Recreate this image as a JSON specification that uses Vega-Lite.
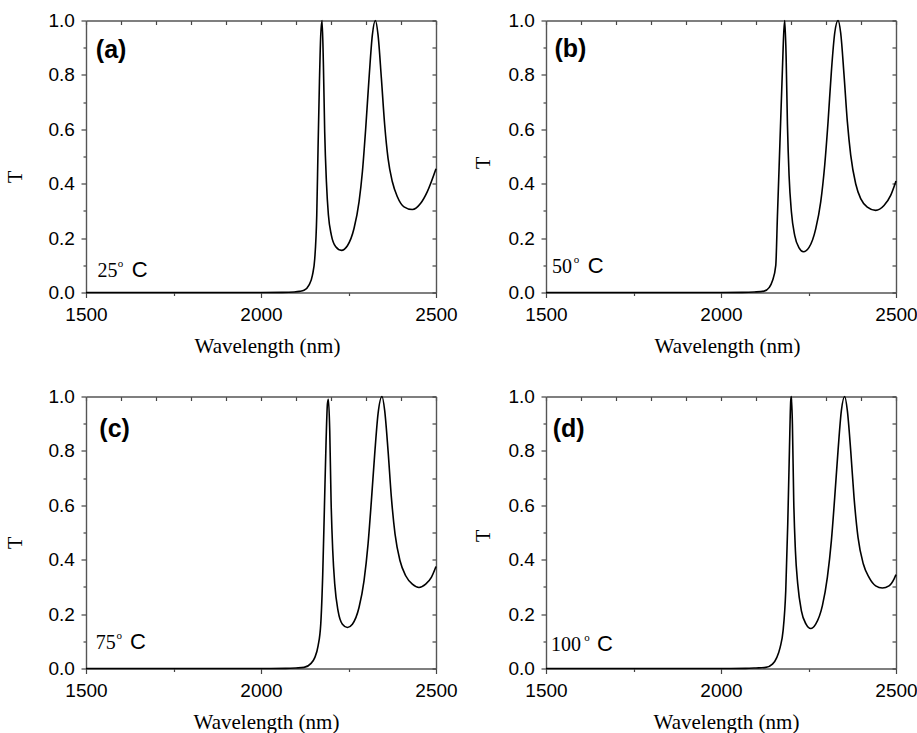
{
  "$schema": "https://vega.github.io/schema/vega-lite/v6.json",
  "background": "white",
  "padding": {"left": 5, "top": 11.5, "right": 0, "bottom": 0},
  "columns": 2,
  "bounds": "flush",
  "spacing": {"row": 104, "column": 110},
  "datasets": {
    "a": [
      {"wl": 1500, "T": 0}, {"wl": 1800, "T": 0}, {"wl": 2000, "T": 0}, {"wl": 2060, "T": 0.0005}, {"wl": 2095, "T": 0.002},
      {"wl": 2110, "T": 0.004}, {"wl": 2123, "T": 0.008}, {"wl": 2137, "T": 0.027}, {"wl": 2147, "T": 0.064}, {"wl": 2153.6, "T": 0.125},
      {"wl": 2159.3, "T": 0.285}, {"wl": 2163, "T": 0.53}, {"wl": 2167, "T": 0.776}, {"wl": 2170.7, "T": 0.947}, {"wl": 2174.5, "T": 1.0},
      {"wl": 2178.3, "T": 0.837}, {"wl": 2182, "T": 0.59}, {"wl": 2186.9, "T": 0.407}, {"wl": 2192.6, "T": 0.285}, {"wl": 2201, "T": 0.211},
      {"wl": 2213.6, "T": 0.168}, {"wl": 2229.7, "T": 0.155}, {"wl": 2246.9, "T": 0.172}, {"wl": 2265.9, "T": 0.236}, {"wl": 2280.2, "T": 0.334},
      {"wl": 2289.7, "T": 0.444}, {"wl": 2299.2, "T": 0.604}, {"wl": 2308.7, "T": 0.788}, {"wl": 2318.2, "T": 0.947}, {"wl": 2326.8, "T": 1.0},
      {"wl": 2334.4, "T": 0.947}, {"wl": 2343.9, "T": 0.788}, {"wl": 2353.4, "T": 0.616}, {"wl": 2363, "T": 0.493}, {"wl": 2375.3, "T": 0.407},
      {"wl": 2389.6, "T": 0.352}, {"wl": 2408.6, "T": 0.315}, {"wl": 2432.4, "T": 0.305}, {"wl": 2456.2, "T": 0.328}, {"wl": 2475.2, "T": 0.371},
      {"wl": 2500, "T": 0.455}
    ],
    "b": [
      {"wl": 1500, "T": 0}, {"wl": 1800, "T": 0}, {"wl": 2000, "T": 0}, {"wl": 2060, "T": 0.0005}, {"wl": 2095, "T": 0.002},
      {"wl": 2123, "T": 0.005}, {"wl": 2137.4, "T": 0.018}, {"wl": 2147, "T": 0.043}, {"wl": 2156.5, "T": 0.1}, {"wl": 2161.2, "T": 0.28},
      {"wl": 2166, "T": 0.46}, {"wl": 2170.7, "T": 0.64}, {"wl": 2175.5, "T": 0.82}, {"wl": 2179.5, "T": 0.96}, {"wl": 2182.2, "T": 1.0},
      {"wl": 2186, "T": 0.87}, {"wl": 2189.8, "T": 0.62}, {"wl": 2194.5, "T": 0.43}, {"wl": 2201.2, "T": 0.296}, {"wl": 2210.7, "T": 0.209},
      {"wl": 2223, "T": 0.164}, {"wl": 2235.4, "T": 0.15}, {"wl": 2251.6, "T": 0.166}, {"wl": 2270.6, "T": 0.234}, {"wl": 2284.9, "T": 0.333},
      {"wl": 2296.3, "T": 0.468}, {"wl": 2305.9, "T": 0.628}, {"wl": 2315.4, "T": 0.813}, {"wl": 2324.9, "T": 0.954}, {"wl": 2334.4, "T": 1.0},
      {"wl": 2342, "T": 0.954}, {"wl": 2351.5, "T": 0.8}, {"wl": 2361, "T": 0.628}, {"wl": 2370.6, "T": 0.505}, {"wl": 2384.8, "T": 0.4},
      {"wl": 2399.1, "T": 0.345}, {"wl": 2418.1, "T": 0.314}, {"wl": 2441.9, "T": 0.302}, {"wl": 2465.7, "T": 0.32}, {"wl": 2484.8, "T": 0.357},
      {"wl": 2500, "T": 0.41}
    ],
    "c": [
      {"wl": 1500, "T": 0}, {"wl": 1800, "T": 0}, {"wl": 2000, "T": 0}, {"wl": 2070, "T": 0.0005}, {"wl": 2100, "T": 0.002},
      {"wl": 2123, "T": 0.004}, {"wl": 2142.2, "T": 0.018}, {"wl": 2153.6, "T": 0.04}, {"wl": 2163.1, "T": 0.083}, {"wl": 2170.7, "T": 0.163},
      {"wl": 2176.4, "T": 0.347}, {"wl": 2181.2, "T": 0.593}, {"wl": 2186, "T": 0.838}, {"wl": 2189.8, "T": 0.973}, {"wl": 2192.6, "T": 0.99},
      {"wl": 2196.4, "T": 0.875}, {"wl": 2200.2, "T": 0.617}, {"wl": 2205, "T": 0.433}, {"wl": 2210.7, "T": 0.31}, {"wl": 2220.2, "T": 0.212},
      {"wl": 2232.6, "T": 0.163}, {"wl": 2246.9, "T": 0.151}, {"wl": 2261.1, "T": 0.163}, {"wl": 2280.2, "T": 0.225}, {"wl": 2294.4, "T": 0.323},
      {"wl": 2305.9, "T": 0.458}, {"wl": 2315.4, "T": 0.617}, {"wl": 2324.9, "T": 0.789}, {"wl": 2334.4, "T": 0.936}, {"wl": 2345.8, "T": 1.0},
      {"wl": 2353.4, "T": 0.948}, {"wl": 2363, "T": 0.801}, {"wl": 2372.5, "T": 0.629}, {"wl": 2383, "T": 0.494}, {"wl": 2397.2, "T": 0.396},
      {"wl": 2413.4, "T": 0.341}, {"wl": 2432.4, "T": 0.31}, {"wl": 2451.4, "T": 0.298}, {"wl": 2470.5, "T": 0.31}, {"wl": 2486.7, "T": 0.335},
      {"wl": 2500, "T": 0.375}
    ],
    "d": [
      {"wl": 1500, "T": 0}, {"wl": 1800, "T": 0}, {"wl": 2000, "T": 0}, {"wl": 2070, "T": 0.0005}, {"wl": 2100, "T": 0.002},
      {"wl": 2127.9, "T": 0.004}, {"wl": 2147, "T": 0.016}, {"wl": 2159.3, "T": 0.04}, {"wl": 2168.8, "T": 0.077}, {"wl": 2177.4, "T": 0.139},
      {"wl": 2185, "T": 0.286}, {"wl": 2190.7, "T": 0.531}, {"wl": 2195.5, "T": 0.801}, {"wl": 2199.3, "T": 0.985}, {"wl": 2201.2, "T": 1.0},
      {"wl": 2204, "T": 0.9}, {"wl": 2207.8, "T": 0.617}, {"wl": 2212.6, "T": 0.433}, {"wl": 2219.3, "T": 0.31}, {"wl": 2229.7, "T": 0.212},
      {"wl": 2243, "T": 0.163}, {"wl": 2256.4, "T": 0.147}, {"wl": 2270.6, "T": 0.163}, {"wl": 2289.7, "T": 0.231}, {"wl": 2303.9, "T": 0.335},
      {"wl": 2315.4, "T": 0.47}, {"wl": 2324.9, "T": 0.629}, {"wl": 2334.4, "T": 0.801}, {"wl": 2343.9, "T": 0.948}, {"wl": 2353.4, "T": 1.0},
      {"wl": 2361, "T": 0.948}, {"wl": 2370.6, "T": 0.801}, {"wl": 2380.1, "T": 0.629}, {"wl": 2391.5, "T": 0.482}, {"wl": 2406.7, "T": 0.384},
      {"wl": 2422.9, "T": 0.335}, {"wl": 2441.9, "T": 0.304}, {"wl": 2461, "T": 0.296}, {"wl": 2480, "T": 0.304}, {"wl": 2494.3, "T": 0.329},
      {"wl": 2500, "T": 0.345}
    ]
  },
  "concat": [
    {
      "width": 350, "height": 272,
      "data": {"name": "a"},
      "layer": [
        {
          "mark": {"type": "line", "color": "#000", "strokeWidth": 1.6, "interpolate": "monotone"},
          "encoding": {
            "x": {"field": "wl", "type": "quantitative", "scale": {"domain": [1500, 2500], "nice": false, "zero": false},
              "axis": {"orient": "bottom", "values": [1500, 1750, 2000, 2250, 2500], "format": "d", "labelExpr": "datum.value % 500 === 0 ? datum.label : ''", "tickSize": {"condition": {"test": "datum.value % 500 === 0", "value": 5}, "value": 3}, "labelPadding": 7.5, "title": "Wavelength (nm)", "titleFontSize": 21, "titleX": 181, "titleY": 60, "titleBaseline": "alphabetic", "titleAlign": "center"}},
            "y": {"field": "T", "type": "quantitative", "scale": {"domain": [0, 1], "nice": false},
              "axis": {"orient": "left", "values": [0, 0.1, 0.2, 0.3, 0.4, 0.5, 0.6, 0.7, 0.8, 0.9, 1.0], "format": ".1f", "labelExpr": "round(datum.value*10) % 2 === 0 ? datum.label : ''", "tickSize": {"condition": {"test": "round(datum.value*10) % 2 === 0", "value": 5}, "value": 3}, "labelPadding": 6.7, "title": "T", "titleFontSize": 20, "titleX": -71, "titleY": 156, "titleBaseline": "middle", "titleAngle": -90, "titleAlign": "center"}}
          }
        },
        {
          "data": {"values": [{"x": 1528, "y": 0.89, "t": "(a)"}]},
          "mark": {"type": "text", "font": "Liberation Sans", "fontWeight": "bold", "fontSize": 25, "align": "left", "baseline": "middle", "color": "#000"},
          "encoding": {
            "x": {"field": "x", "type": "quantitative", "scale": {"domain": [1500, 2500], "nice": false, "zero": false},
              "axis": {"orient": "top", "values": [1500, 1600, 1700, 1800, 1900, 2000, 2100, 2200, 2300, 2400, 2500], "labels": false, "tickSize": -4, "title": null}},
            "y": {"field": "y", "type": "quantitative", "scale": {"domain": [0, 1], "nice": false},
              "axis": {"orient": "right", "values": [0, 0.1, 0.2, 0.3, 0.4, 0.5, 0.6, 0.7, 0.8, 0.9, 1.0], "labels": false, "tickSize": -4, "title": null}},
            "text": {"field": "t"}
          }
        },
        {
          "data": {"values": [{"x": 1533, "y": 0.057, "t": "25"}]},
          "mark": {"type": "text", "font": "Liberation Serif", "fontSize": 20, "align": "left", "baseline": "alphabetic", "color": "#000"},
          "encoding": {"x": {"field": "x", "type": "quantitative", "scale": {"domain": [1500, 2500], "nice": false, "zero": false}, "axis": null}, "y": {"field": "y", "type": "quantitative", "scale": {"domain": [0, 1], "nice": false}, "axis": null}, "text": {"field": "t"}}
        },
        {
          "data": {"values": [{"x": 1591, "y": 0.094, "t": "o"}]},
          "mark": {"type": "text", "font": "Liberation Serif", "fontSize": 11, "align": "left", "baseline": "alphabetic", "color": "#000"},
          "encoding": {"x": {"field": "x", "type": "quantitative", "scale": {"domain": [1500, 2500], "nice": false, "zero": false}, "axis": null}, "y": {"field": "y", "type": "quantitative", "scale": {"domain": [0, 1], "nice": false}, "axis": null}, "text": {"field": "t"}}
        },
        {
          "data": {"values": [{"x": 1631, "y": 0.057, "t": "C"}]},
          "mark": {"type": "text", "font": "Liberation Sans", "fontSize": 22, "align": "left", "baseline": "alphabetic", "color": "#000"},
          "encoding": {"x": {"field": "x", "type": "quantitative", "scale": {"domain": [1500, 2500], "nice": false, "zero": false}, "axis": null}, "y": {"field": "y", "type": "quantitative", "scale": {"domain": [0, 1], "nice": false}, "axis": null}, "text": {"field": "t"}}
        }
      ],
      "resolve": {"axis": {"x": "independent", "y": "independent"}}
    },
    {
      "width": 350, "height": 272,
      "data": {"name": "b"},
      "layer": [
        {
          "mark": {"type": "line", "color": "#000", "strokeWidth": 1.6, "interpolate": "monotone"},
          "encoding": {
            "x": {"field": "wl", "type": "quantitative", "scale": {"domain": [1500, 2500], "nice": false, "zero": false},
              "axis": {"orient": "bottom", "values": [1500, 1750, 2000, 2250, 2500], "format": "d", "labelExpr": "datum.value % 500 === 0 ? datum.label : ''", "tickSize": {"condition": {"test": "datum.value % 500 === 0", "value": 5}, "value": 3}, "labelPadding": 7.5, "title": "Wavelength (nm)", "titleFontSize": 21, "titleX": 181, "titleY": 60, "titleBaseline": "alphabetic", "titleAlign": "center"}},
            "y": {"field": "T", "type": "quantitative", "scale": {"domain": [0, 1], "nice": false},
              "axis": {"orient": "left", "values": [0, 0.1, 0.2, 0.3, 0.4, 0.5, 0.6, 0.7, 0.8, 0.9, 1.0], "format": ".1f", "labelExpr": "round(datum.value*10) % 2 === 0 ? datum.label : ''", "tickSize": {"condition": {"test": "round(datum.value*10) % 2 === 0", "value": 5}, "value": 3}, "labelPadding": 6.7, "title": "T", "titleFontSize": 20, "titleX": -63, "titleY": 142, "titleBaseline": "middle", "titleAngle": -90, "titleAlign": "center"}}
          }
        },
        {
          "data": {"values": [{"x": 1524, "y": 0.895, "t": "(b)"}]},
          "mark": {"type": "text", "font": "Liberation Sans", "fontWeight": "bold", "fontSize": 25, "align": "left", "baseline": "middle", "color": "#000"},
          "encoding": {
            "x": {"field": "x", "type": "quantitative", "scale": {"domain": [1500, 2500], "nice": false, "zero": false},
              "axis": {"orient": "top", "values": [1500, 1600, 1700, 1800, 1900, 2000, 2100, 2200, 2300, 2400, 2500], "labels": false, "tickSize": -4, "title": null}},
            "y": {"field": "y", "type": "quantitative", "scale": {"domain": [0, 1], "nice": false},
              "axis": {"orient": "right", "values": [0, 0.1, 0.2, 0.3, 0.4, 0.5, 0.6, 0.7, 0.8, 0.9, 1.0], "labels": false, "tickSize": -4, "title": null}},
            "text": {"field": "t"}
          }
        },
        {
          "data": {"values": [{"x": 1517, "y": 0.07, "t": "50"}]},
          "mark": {"type": "text", "font": "Liberation Serif", "fontSize": 20, "align": "left", "baseline": "alphabetic", "color": "#000"},
          "encoding": {"x": {"field": "x", "type": "quantitative", "scale": {"domain": [1500, 2500], "nice": false, "zero": false}, "axis": null}, "y": {"field": "y", "type": "quantitative", "scale": {"domain": [0, 1], "nice": false}, "axis": null}, "text": {"field": "t"}}
        },
        {
          "data": {"values": [{"x": 1579, "y": 0.107, "t": "o"}]},
          "mark": {"type": "text", "font": "Liberation Serif", "fontSize": 11, "align": "left", "baseline": "alphabetic", "color": "#000"},
          "encoding": {"x": {"field": "x", "type": "quantitative", "scale": {"domain": [1500, 2500], "nice": false, "zero": false}, "axis": null}, "y": {"field": "y", "type": "quantitative", "scale": {"domain": [0, 1], "nice": false}, "axis": null}, "text": {"field": "t"}}
        },
        {
          "data": {"values": [{"x": 1619, "y": 0.07, "t": "C"}]},
          "mark": {"type": "text", "font": "Liberation Sans", "fontSize": 22, "align": "left", "baseline": "alphabetic", "color": "#000"},
          "encoding": {"x": {"field": "x", "type": "quantitative", "scale": {"domain": [1500, 2500], "nice": false, "zero": false}, "axis": null}, "y": {"field": "y", "type": "quantitative", "scale": {"domain": [0, 1], "nice": false}, "axis": null}, "text": {"field": "t"}}
        }
      ],
      "resolve": {"axis": {"x": "independent", "y": "independent"}}
    },
    {
      "width": 350, "height": 272,
      "data": {"name": "c"},
      "layer": [
        {
          "mark": {"type": "line", "color": "#000", "strokeWidth": 1.6, "interpolate": "monotone"},
          "encoding": {
            "x": {"field": "wl", "type": "quantitative", "scale": {"domain": [1500, 2500], "nice": false, "zero": false},
              "axis": {"orient": "bottom", "values": [1500, 1750, 2000, 2250, 2500], "format": "d", "labelExpr": "datum.value % 500 === 0 ? datum.label : ''", "tickSize": {"condition": {"test": "datum.value % 500 === 0", "value": 5}, "value": 3}, "labelPadding": 7.5, "title": "Wavelength (nm)", "titleFontSize": 21, "titleX": 180, "titleY": 60, "titleBaseline": "alphabetic", "titleAlign": "center"}},
            "y": {"field": "T", "type": "quantitative", "scale": {"domain": [0, 1], "nice": false},
              "axis": {"orient": "left", "values": [0, 0.1, 0.2, 0.3, 0.4, 0.5, 0.6, 0.7, 0.8, 0.9, 1.0], "format": ".1f", "labelExpr": "round(datum.value*10) % 2 === 0 ? datum.label : ''", "tickSize": {"condition": {"test": "round(datum.value*10) % 2 === 0", "value": 5}, "value": 3}, "labelPadding": 6.7, "title": "T", "titleFontSize": 20, "titleX": -71, "titleY": 146, "titleBaseline": "middle", "titleAngle": -90, "titleAlign": "center"}}
          }
        },
        {
          "data": {"values": [{"x": 1538, "y": 0.881, "t": "(c)"}]},
          "mark": {"type": "text", "font": "Liberation Sans", "fontWeight": "bold", "fontSize": 25, "align": "left", "baseline": "middle", "color": "#000"},
          "encoding": {
            "x": {"field": "x", "type": "quantitative", "scale": {"domain": [1500, 2500], "nice": false, "zero": false},
              "axis": {"orient": "top", "values": [1500, 1600, 1700, 1800, 1900, 2000, 2100, 2200, 2300, 2400, 2500], "labels": false, "tickSize": -4, "title": null}},
            "y": {"field": "y", "type": "quantitative", "scale": {"domain": [0, 1], "nice": false},
              "axis": {"orient": "right", "values": [0, 0.1, 0.2, 0.3, 0.4, 0.5, 0.6, 0.7, 0.8, 0.9, 1.0], "labels": false, "tickSize": -4, "title": null}},
            "text": {"field": "t"}
          }
        },
        {
          "data": {"values": [{"x": 1528, "y": 0.071, "t": "75"}]},
          "mark": {"type": "text", "font": "Liberation Serif", "fontSize": 20, "align": "left", "baseline": "alphabetic", "color": "#000"},
          "encoding": {"x": {"field": "x", "type": "quantitative", "scale": {"domain": [1500, 2500], "nice": false, "zero": false}, "axis": null}, "y": {"field": "y", "type": "quantitative", "scale": {"domain": [0, 1], "nice": false}, "axis": null}, "text": {"field": "t"}}
        },
        {
          "data": {"values": [{"x": 1587, "y": 0.108, "t": "o"}]},
          "mark": {"type": "text", "font": "Liberation Serif", "fontSize": 11, "align": "left", "baseline": "alphabetic", "color": "#000"},
          "encoding": {"x": {"field": "x", "type": "quantitative", "scale": {"domain": [1500, 2500], "nice": false, "zero": false}, "axis": null}, "y": {"field": "y", "type": "quantitative", "scale": {"domain": [0, 1], "nice": false}, "axis": null}, "text": {"field": "t"}}
        },
        {
          "data": {"values": [{"x": 1626, "y": 0.071, "t": "C"}]},
          "mark": {"type": "text", "font": "Liberation Sans", "fontSize": 22, "align": "left", "baseline": "alphabetic", "color": "#000"},
          "encoding": {"x": {"field": "x", "type": "quantitative", "scale": {"domain": [1500, 2500], "nice": false, "zero": false}, "axis": null}, "y": {"field": "y", "type": "quantitative", "scale": {"domain": [0, 1], "nice": false}, "axis": null}, "text": {"field": "t"}}
        }
      ],
      "resolve": {"axis": {"x": "independent", "y": "independent"}}
    },
    {
      "width": 350, "height": 272,
      "data": {"name": "d"},
      "layer": [
        {
          "mark": {"type": "line", "color": "#000", "strokeWidth": 1.6, "interpolate": "monotone"},
          "encoding": {
            "x": {"field": "wl", "type": "quantitative", "scale": {"domain": [1500, 2500], "nice": false, "zero": false},
              "axis": {"orient": "bottom", "values": [1500, 1750, 2000, 2250, 2500], "format": "d", "labelExpr": "datum.value % 500 === 0 ? datum.label : ''", "tickSize": {"condition": {"test": "datum.value % 500 === 0", "value": 5}, "value": 3}, "labelPadding": 7.5, "title": "Wavelength (nm)", "titleFontSize": 21, "titleX": 180, "titleY": 60, "titleBaseline": "alphabetic", "titleAlign": "center"}},
            "y": {"field": "T", "type": "quantitative", "scale": {"domain": [0, 1], "nice": false},
              "axis": {"orient": "left", "values": [0, 0.1, 0.2, 0.3, 0.4, 0.5, 0.6, 0.7, 0.8, 0.9, 1.0], "format": ".1f", "labelExpr": "round(datum.value*10) % 2 === 0 ? datum.label : ''", "tickSize": {"condition": {"test": "round(datum.value*10) % 2 === 0", "value": 5}, "value": 3}, "labelPadding": 6.7, "title": "T", "titleFontSize": 20, "titleX": -63, "titleY": 139, "titleBaseline": "middle", "titleAngle": -90, "titleAlign": "center"}}
          }
        },
        {
          "data": {"values": [{"x": 1519, "y": 0.881, "t": "(d)"}]},
          "mark": {"type": "text", "font": "Liberation Sans", "fontWeight": "bold", "fontSize": 25, "align": "left", "baseline": "middle", "color": "#000"},
          "encoding": {
            "x": {"field": "x", "type": "quantitative", "scale": {"domain": [1500, 2500], "nice": false, "zero": false},
              "axis": {"orient": "top", "values": [1500, 1600, 1700, 1800, 1900, 2000, 2100, 2200, 2300, 2400, 2500], "labels": false, "tickSize": -4, "title": null}},
            "y": {"field": "y", "type": "quantitative", "scale": {"domain": [0, 1], "nice": false},
              "axis": {"orient": "right", "values": [0, 0.1, 0.2, 0.3, 0.4, 0.5, 0.6, 0.7, 0.8, 0.9, 1.0], "labels": false, "tickSize": -4, "title": null}},
            "text": {"field": "t"}
          }
        },
        {
          "data": {"values": [{"x": 1514, "y": 0.065, "t": "100"}]},
          "mark": {"type": "text", "font": "Liberation Serif", "fontSize": 20, "align": "left", "baseline": "alphabetic", "color": "#000"},
          "encoding": {"x": {"field": "x", "type": "quantitative", "scale": {"domain": [1500, 2500], "nice": false, "zero": false}, "axis": null}, "y": {"field": "y", "type": "quantitative", "scale": {"domain": [0, 1], "nice": false}, "axis": null}, "text": {"field": "t"}}
        },
        {
          "data": {"values": [{"x": 1609, "y": 0.102, "t": "o"}]},
          "mark": {"type": "text", "font": "Liberation Serif", "fontSize": 11, "align": "left", "baseline": "alphabetic", "color": "#000"},
          "encoding": {"x": {"field": "x", "type": "quantitative", "scale": {"domain": [1500, 2500], "nice": false, "zero": false}, "axis": null}, "y": {"field": "y", "type": "quantitative", "scale": {"domain": [0, 1], "nice": false}, "axis": null}, "text": {"field": "t"}}
        },
        {
          "data": {"values": [{"x": 1646, "y": 0.065, "t": "C"}]},
          "mark": {"type": "text", "font": "Liberation Sans", "fontSize": 22, "align": "left", "baseline": "alphabetic", "color": "#000"},
          "encoding": {"x": {"field": "x", "type": "quantitative", "scale": {"domain": [1500, 2500], "nice": false, "zero": false}, "axis": null}, "y": {"field": "y", "type": "quantitative", "scale": {"domain": [0, 1], "nice": false}, "axis": null}, "text": {"field": "t"}}
        }
      ],
      "resolve": {"axis": {"x": "independent", "y": "independent"}}
    }
  ],
  "config": {
    "view": {"stroke": null},
    "axis": {"grid": false, "domainColor": "#555", "domainWidth": 1.4, "tickColor": "#444", "tickWidth": 1.2, "labelFont": "Liberation Sans", "labelFontSize": 19, "labelColor": "#000", "titleFont": "Liberation Serif", "titleFontWeight": "normal", "titleColor": "#000", "labelFlush": false, "labelOverlap": false}
  }
}
